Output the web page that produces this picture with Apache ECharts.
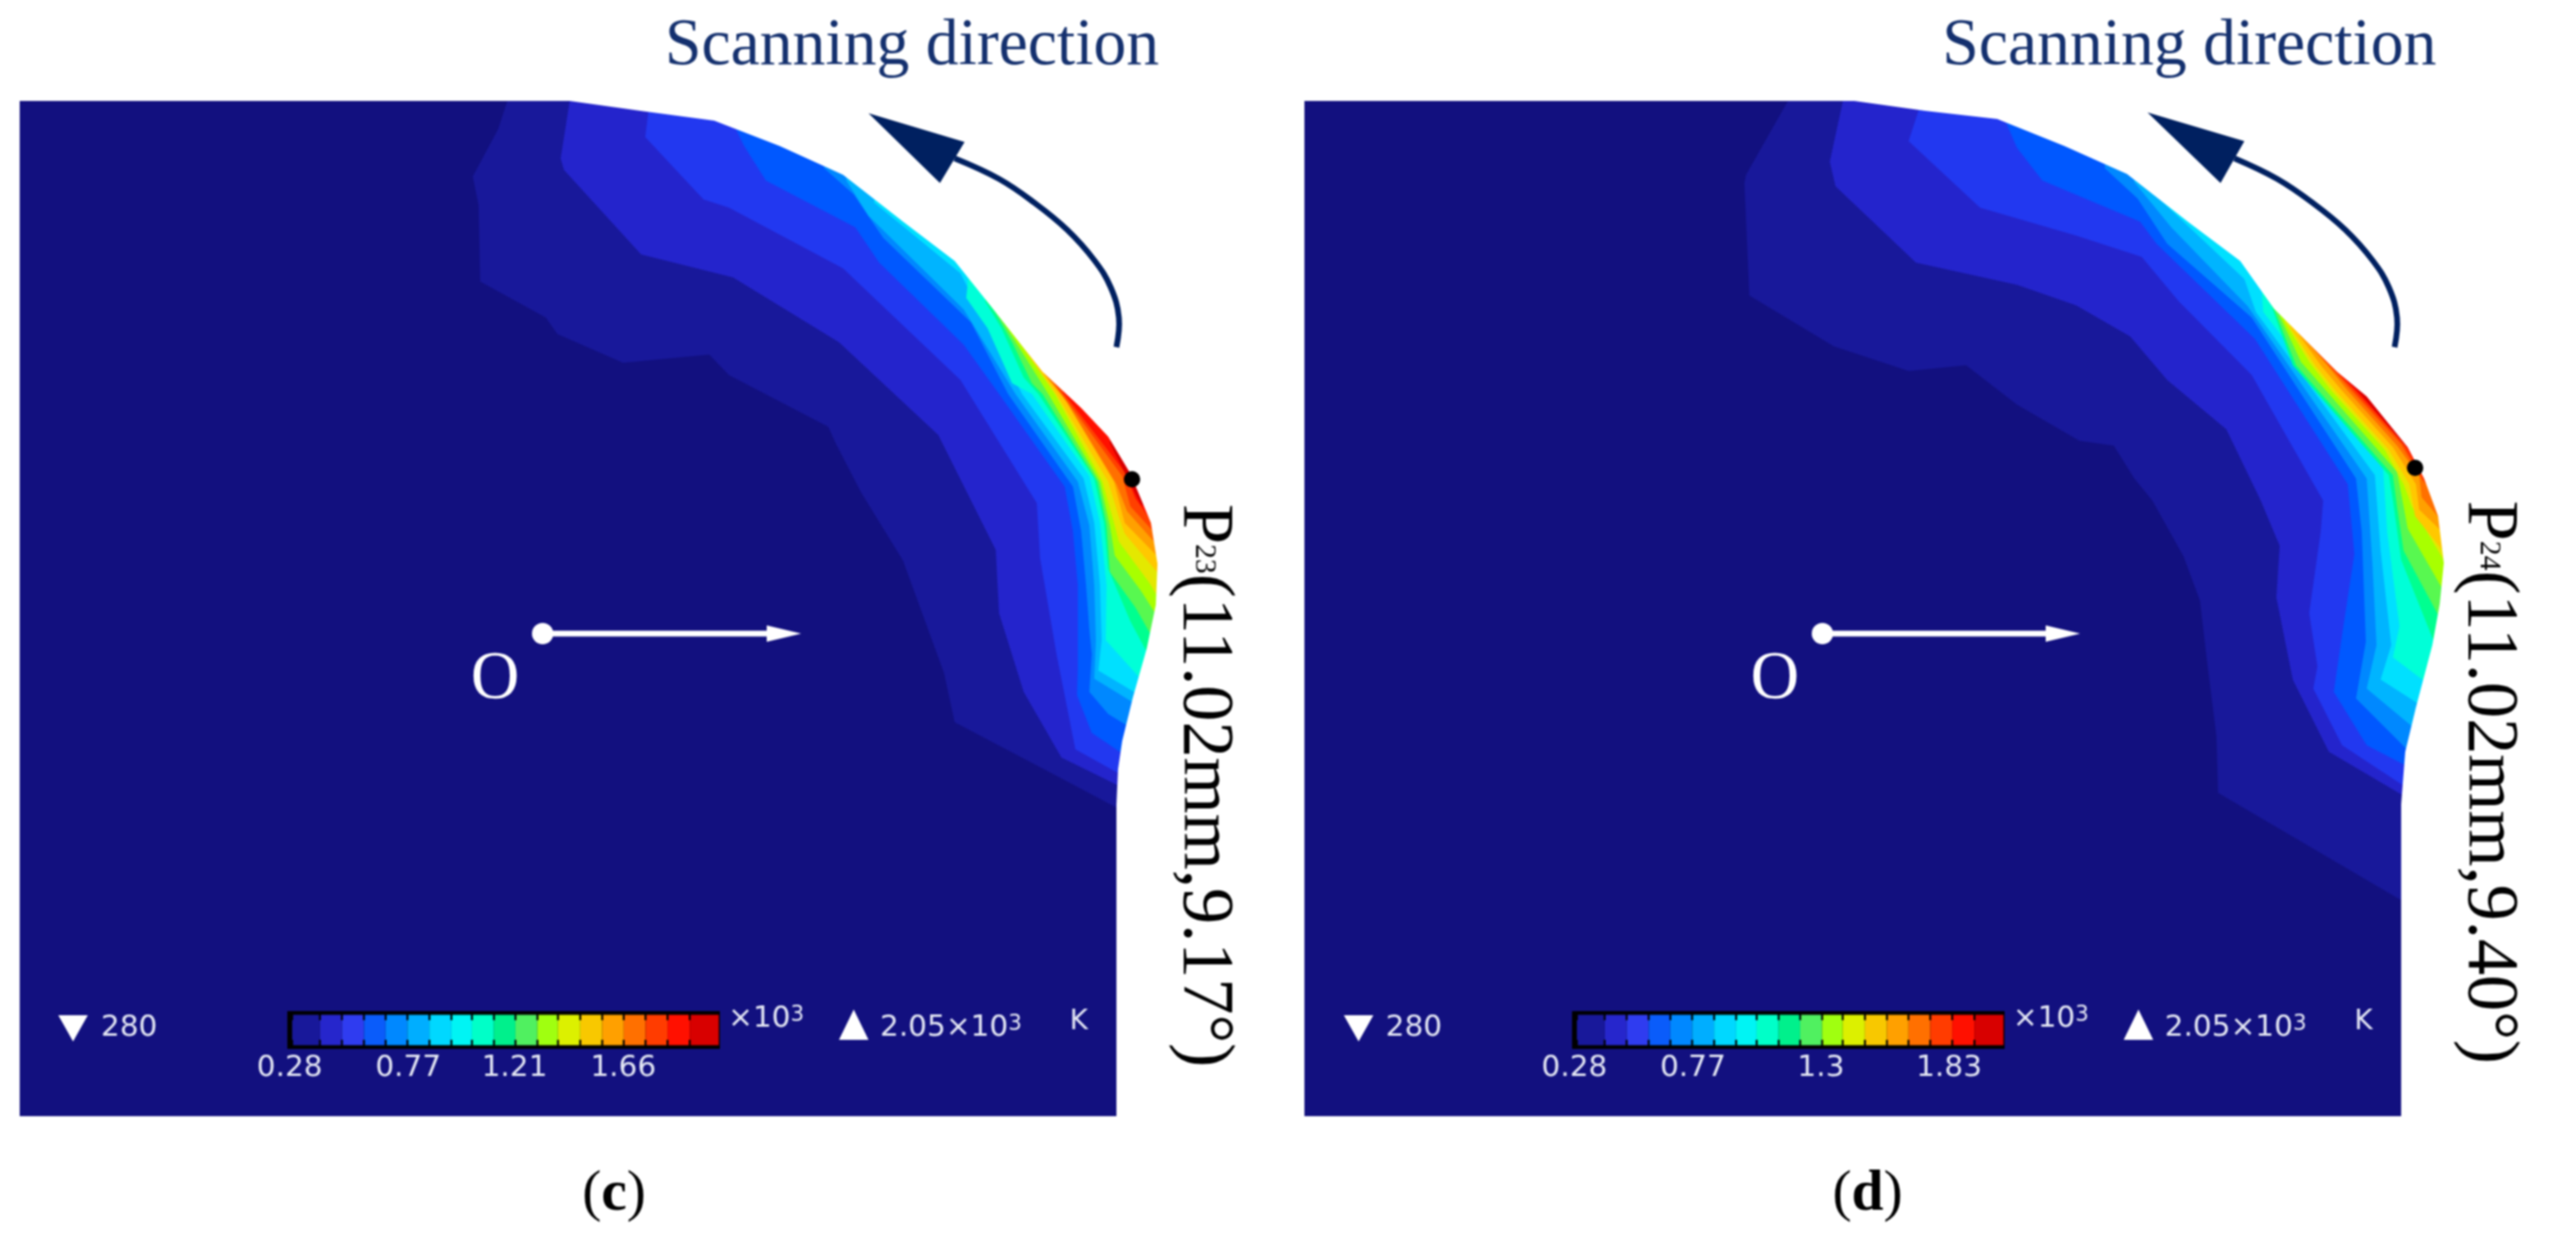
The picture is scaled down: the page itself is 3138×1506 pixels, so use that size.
<!DOCTYPE html>
<html><head><meta charset="utf-8">
<style>html,body{margin:0;padding:0;background:#fff}#c{width:3138px;height:1506px;filter:blur(1px)}</style>
<script src="https://cdn.jsdelivr.net/npm/echarts@6/dist/echarts.min.js"></script>
</head><body><div id="c"></div>
<script>
// ---------- colours of the temperature bands (coolest to hottest) ----------
const baseColor = '#12107f';
const levelColors = ['#18189a','#2424cc','#2238f0','#0058ff','#0088ff','#00b4ff','#00e0ff','#00ffd8','#00ff90','#58f850','#a8ff00','#e4e800','#ffc800','#ffa000','#ff7000','#ff4000','#ff1000','#d80000'];
const barColors = ['#18189a','#2626cc','#2f3cf0','#0a5cfa','#0088ff','#00aeff','#00d8ff','#00f4f4','#00ffc8','#00f08c','#50f060','#a0ff10','#dcf000','#f8c800','#ffa000','#ff7000','#ff3c00','#ff1000','#d80000'];
// colour scale: cell edges in units of 10^3 K
const barEdges = [0.29,0.405,0.496,0.587,0.677,0.767,0.858,0.949,1.034,1.125,1.214,1.305,1.39,1.482,1.573,1.662,1.752,1.843,1.935,2.055];
const ticksC = [0.28,0.77,1.21,1.66];
const ticksD = [0.28,0.77,1.3,1.83];

// ---------- part outline ----------
const outlineC = [[24,123],[694,123],[780,135],[870,147],[950,178],[1027,213],[1100,270],[1163,318],[1207,373],[1270,453],[1317,497],[1350,532],[1377,577],[1402,637],[1410,687],[1408,737],[1397,790],[1380,850],[1367,903],[1362,937],[1360,980]];
const outlineD = [[24,123],[694,123],[780,135],[868,145],[950,178],[1026,212],[1100,270],[1164,318],[1205,376],[1282,453],[1318,483],[1368,545],[1388,583],[1405,629],[1412,686],[1407,736],[1398,786],[1378,862],[1365,916],[1360,980]];

// ---------- contour lines, one per colour level ----------
const contoursC = [
 [[618,123],[607,157],[576,215],[583,250],[585,343],[665,387],[679,407],[759,442],[864,432],[888,457],[1009,520],[1018,540],[1049,600],[1100,683],[1150,820],[1163,880],[1277,940],[1362,985]],
 [[694,123],[683,193],[687,207],[781,310],[893,338],[1022,417],[1143,530],[1213,670],[1217,747],[1247,843],[1293,923],[1362,957]],
 [[790,135],[786,167],[857,243],[888,253],[1027,327],[1170,463],[1263,613],[1267,680],[1287,797],[1310,913],[1364,943]],
 [[893,150],[906,177],[933,220],[1042,277],[1071,320],[1174,420],[1217,480],[1297,593],[1307,647],[1313,713],[1313,813],[1312,847],[1330,893],[1370,920]],
 [[1004,205],[1040,237],[1076,290],[1183,393],[1228,480],[1307,593],[1317,647],[1323,713],[1327,767],[1330,797],[1327,843],[1350,870],[1378,887]],
 [[1031,220],[1058,263],[1174,377],[1237,480],[1313,587],[1327,640],[1333,713],[1335,780],[1333,827],[1382,857]],
 [[1065,247],[1170,333],[1245,480],[1320,583],[1333,637],[1340,713],[1342,780],[1338,817],[1388,847]],
 [[1180,335],[1177,363],[1203,400],[1233,467],[1257,480],[1327,580],[1340,637],[1348,713],[1347,780],[1392,830]],
 [[1200,367],[1220,400],[1247,460],[1265,480],[1333,583],[1345,637],[1350,693],[1377,757],[1400,800]],
 [[1208,373],[1233,417],[1257,467],[1270,480],[1337,587],[1348,640],[1352,697],[1383,740],[1404,777]],
 [[1218,386],[1277,480],[1340,587],[1352,640],[1358,677],[1390,720],[1409,750]],
 [[1235,408],[1285,480],[1343,587],[1357,637],[1363,660],[1400,710],[1412,730]],
 [[1250,428],[1287,480],[1350,587],[1363,630],[1370,650],[1412,700]],
 [[1262,443],[1293,480],[1357,587],[1370,637],[1412,680]],
 [[1272,455],[1300,490],[1360,590],[1373,623],[1412,667]],
 [[1285,468],[1367,580],[1377,617],[1410,653]],
 [[1295,478],[1370,575],[1383,607],[1406,640]],
 [[1352,540],[1372,580],[1390,615],[1405,620]]
];
const contoursD = [
 [[613,123],[562,213],[560,223],[566,360],[669,422],[760,452],[830,445],[892,493],[968,537],[1010,543],[1035,583],[1057,610],[1095,678],[1115,732],[1123,801],[1135,897],[1137,966],[1362,1098]],
 [[680,123],[664,197],[671,227],[769,320],[892,347],[964,372],[1030,410],[1075,463],[1147,523],[1189,610],[1212,665],[1208,728],[1228,828],[1272,916],[1362,969]],
 [[772,135],[760,172],[847,253],[964,287],[1044,313],[1089,367],[1178,457],[1265,610],[1262,648],[1248,747],[1258,812],[1253,839],[1288,908],[1364,958]],
 [[879,150],[892,180],[923,220],[1042,270],[1062,297],[1182,413],[1295,590],[1303,675],[1288,774],[1278,843],[1318,908],[1370,935]],
 [[999,205],[1039,242],[1075,297],[1178,387],[1305,583],[1312,648],[1317,782],[1305,851],[1370,916]],
 [[1035,222],[1080,277],[1173,373],[1318,583],[1325,686],[1330,786],[1318,839],[1378,889]],
 [[1066,243],[1169,340],[1183,380],[1328,579],[1335,671],[1348,786],[1335,828],[1388,862]],
 [[1190,352],[1192,380],[1338,571],[1343,648],[1358,763],[1350,801],[1395,835]],
 [[1200,367],[1228,445],[1345,579],[1350,610],[1360,682],[1400,782]],
 [[1205,376],[1232,445],[1350,579],[1355,617],[1363,671],[1406,751]],
 [[1212,385],[1238,441],[1355,575],[1363,617],[1368,644],[1410,717]],
 [[1218,392],[1248,441],[1275,476],[1340,548],[1363,590],[1373,617],[1414,686]],
 [[1225,399],[1255,445],[1280,476],[1345,548],[1370,590],[1377,629],[1414,675]],
 [[1235,407],[1262,445],[1288,476],[1350,545],[1378,590],[1382,621],[1410,648]],
 [[1245,416],[1270,445],[1295,476],[1355,543],[1382,580],[1385,606],[1408,633]],
 [[1255,426],[1300,476],[1360,541],[1386,585],[1405,606]],
 [[1268,438],[1304,476],[1364,541],[1392,590]],
 [[1285,455],[1307,476],[1345,520],[1367,545]]
];

// ---------- scanning-direction arrow, origin marker, hot point ----------
const sweepC = [[1360,423],[1363,387],[1353,350],[1333,317],[1300,280],[1260,247],[1217,218],[1163,193]];
const sweepHeadC = [[1058,138],[1175,173],[1163,193],[1145,223]];
const sweepD = [[1352,423],[1355,387],[1345,350],[1325,317],[1292,280],[1252,247],[1209,218],[1157,193]];
const sweepHeadD = [[1051,137],[1169,172],[1157,193],[1140,223]];
const originC = [661,772], originTipC = [976,772], originD = [655,772], originTipD = [969,772];
const hotPointC = [1379,584], hotPointD = [1377,570];

// ---------- texts ----------
const titleText = 'Scanning direction';
const originText = 'O';
const pointC = 'P{s|23}(11.02mm,9.17°)';
const pointD = 'P{s|24}(11.02mm,9.40°)';
const capC = '{a|(}{b|c}{a|)}';
const capD = '{a|(}{b|d}{a|)}';
const minText = '280', maxText = '2.05×10{s|3}', scaleText = '×10{s|3}', unitText = 'K';

const SERIF = '"Liberation Serif","Times New Roman",serif';
const SANS = '"DejaVu Sans",sans-serif';
const NAVY = '#002060', LABEL = '#e4e7f4';

function text(str, pos, size, family, fill, align, extra) {
  return Object.assign({kind:'text', str, pos, size, family, fill, align}, extra || {});
}
function panelShapes(o) {
  const s = [];
  s.push({kind:'poly', pts:o.outline.concat([[1360,1360],[24,1360]]), fill:baseColor});
  o.contours.forEach((c,i)=>{
    const a=c[0], b=c[c.length-1];
    s.push({kind:'poly', pts:c.concat([[1560,b[1]],[1560,50],[a[0],50]]), fill:levelColors[i]});
  });
  s.push({kind:'poly', pts:o.outline.concat([[1360,1360],[1560,1360],[1560,40],[24,40]]), fill:'#ffffff'});
  s.push({kind:'line', pts:o.sweep, stroke:NAVY, width:7, smooth:0.4});
  s.push({kind:'poly', pts:o.head, fill:NAVY});
  s.push({kind:'line', pts:[o.origin,[o.tip[0]-36,o.tip[1]]], stroke:'#ffffff', width:7});
  s.push({kind:'poly', pts:[o.tip,[o.tip[0]-42,o.tip[1]-10],[o.tip[0]-42,o.tip[1]+10]], fill:'#ffffff'});
  s.push({kind:'dot', c:o.origin, r:13, fill:'#ffffff'});
  s.push({kind:'dot', c:o.hot, r:10, fill:'#000000'});
  s.push(text(originText,[o.origin[0]-58,828],82,SERIF,'#ffffff','center'));
  s.push(text(titleText,[o.titleX,57],80,SERIF,'#14306e','left'));
  s.push(text(o.point,[1466,o.pointY],88,SERIF,'#000000','left',{rotate:-Math.PI/2,rich:{s:{fontSize:36,fontFamily:SERIF,fill:'#000',color:'#000'}}}));
  s.push(text(o.cap,[o.capX,1456],70,SERIF,'#000000','center',{rich:{a:{fontSize:70,fontFamily:SERIF,fill:'#000',color:'#000'},b:{fontSize:70,fontFamily:SERIF,fontWeight:'bold',fill:'#000',color:'#000'}}}));
  // legend extras
  s.push({kind:'poly', pts:[[o.lg,1237],[o.lg+36,1237],[o.lg+18,1269]], fill:'#ffffff'});
  s.push({kind:'poly', pts:[[1040,1230],[1022,1267],[1058,1267]], fill:'#ffffff'});
  const sup = {s:{fontSize:26,fontFamily:SANS,fill:LABEL,color:LABEL,verticalAlign:'top'}};
  s.push(text(minText,[123,1253],36,SANS,LABEL,'left'));
  s.push(text(scaleText,[887,1242],36,SANS,LABEL,'left',{rich:sup}));
  s.push(text(maxText,[1072,1253],36,SANS,LABEL,'left',{rich:sup}));
  s.push(text(unitText,[1303,1245],34,SANS,LABEL,'left'));
  return s;
}
const shapesC = panelShapes({outline:outlineC,contours:contoursC,sweep:sweepC,head:sweepHeadC,origin:originC,tip:originTipC,hot:hotPointC,titleX:810,point:pointC,pointY:614,cap:capC,capX:748,lg:71});
const shapesD = panelShapes({outline:outlineD,contours:contoursD,sweep:sweepD,head:sweepHeadD,origin:originD,tip:originTipD,hot:hotPointD,titleX:801,point:pointD,pointY:610,cap:capD,capX:710,lg:72});

function renderer(shapes){
  return function(params, api){
    const d = shapes[params.dataIndex];
    const P = p => api.coord(p);
    if (d.kind==='poly') return {type:'polygon', shape:{points:d.pts.map(P)}, style:{fill:d.fill}};
    if (d.kind==='line') return {type:'polyline', shape:{points:d.pts.map(P), smooth:d.smooth||0}, style:{stroke:d.stroke, lineWidth:d.width, fill:null}};
    if (d.kind==='dot'){ const c=P(d.c); return {type:'circle', shape:{cx:c[0],cy:c[1],r:d.r}, style:{fill:d.fill}}; }
    const c = P(d.pos);
    const st = {text:d.str, fill:d.fill, fontSize:d.size, fontFamily:d.family, font:d.size+'px '+d.family, align:d.align, textAlign:d.align, verticalAlign:'middle', textVerticalAlign:'middle'};
    if (d.rich) st.rich = d.rich;
    return {type:'text', x:c[0], y:c[1], rotation:d.rotate||0, style:st};
  };
}
// colour-bar cells drawn on a real value axis
const barCells = [{k:'bg'}];
barColors.forEach((col,i)=>barCells.push({k:'cell',from:barEdges[i],to:barEdges[i+1],col}));
barEdges.slice(0,-1).forEach(e=>{barCells.push({k:'notch',at:e,y0:0,y1:0.24});barCells.push({k:'notch',at:e,y0:0.76,y1:1});});
function barRender(params, api){
  const d = barCells[params.dataIndex];
  const rect=(x0,x1,y0,y1,fill)=>{const a=api.coord([x0,y0]),b=api.coord([x1,y1]);
    return {type:'rect',shape:{x:a[0],y:b[1],width:b[0]-a[0],height:a[1]-b[1]},style:{fill}};};
  if(d.k==='bg') return rect(0.27,2.06,0,1,'#000000');
  if(d.k==='cell') return rect(d.from,d.to,0.1,0.9,d.col);
  return rect(d.at-0.004,d.at+0.004,d.y0,d.y1,'#000000');
}
const hideAxis = (extra)=>Object.assign({type:'value',show:false,splitLine:{show:false}},extra);
const barAxis = (idx,ticks)=>({type:'value',gridIndex:idx,z:10,min:0.27,max:2.06,axisLine:{show:false},axisTick:{show:false},splitLine:{show:false},
  axisLabel:{customValues:ticks,formatter:v=>String(v),color:LABEL,fontSize:36,fontFamily:SANS,margin:6,hideOverlap:false}});
const option = {
  animation:false, backgroundColor:'#ffffff',
  grid:[
    {left:0,top:0,width:1565,height:1506},
    {left:1565,top:0,width:1565,height:1506},
    {left:350,top:1232,width:527,height:46},
    {left:1915,top:1232,width:527,height:46}
  ],
  xAxis:[hideAxis({gridIndex:0,min:0,max:1565}),hideAxis({gridIndex:1,min:0,max:1565}),barAxis(2,ticksC),barAxis(3,ticksD)],
  yAxis:[hideAxis({gridIndex:0,min:0,max:1506,inverse:true}),hideAxis({gridIndex:1,min:0,max:1506,inverse:true}),hideAxis({gridIndex:2,min:0,max:1}),hideAxis({gridIndex:3,min:0,max:1})],
  series:[
    {type:'custom',name:'Panel c',xAxisIndex:0,yAxisIndex:0,silent:true,clip:false,renderItem:renderer(shapesC),data:shapesC.map((_,i)=>[i]),encode:{x:0}},
    {type:'custom',name:'Panel d',xAxisIndex:1,yAxisIndex:1,silent:true,clip:false,renderItem:renderer(shapesD),data:shapesD.map((_,i)=>[i]),encode:{x:0}},
    {type:'custom',name:'Scale c',xAxisIndex:2,yAxisIndex:2,silent:true,clip:false,renderItem:barRender,data:barCells.map((_,i)=>[i]),encode:{x:0}},
    {type:'custom',name:'Scale d',xAxisIndex:3,yAxisIndex:3,silent:true,clip:false,renderItem:barRender,data:barCells.map((_,i)=>[i]),encode:{x:0}}
  ]
};
echarts.init(document.getElementById('c'),null,{renderer:'canvas'}).setOption(option);
</script></body></html>
